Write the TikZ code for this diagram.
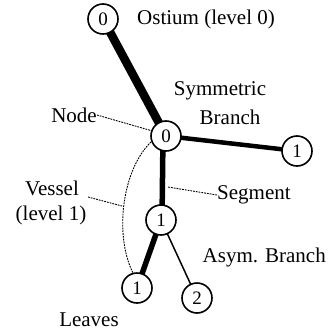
\documentclass[tikz,border=0pt]{standalone}
\usepackage{fontspec}
\setmainfont{Liberation Serif}
\usetikzlibrary{calc}

\tikzset{
  vtx/.style={circle, draw, line width=1.6pt, fill=white, minimum size=30pt, inner sep=0pt, font=\fontsize{19}{19}\selectfont},
  lbl/.style={font=\fontsize{21}{25}\selectfont, inner sep=0pt},
  lead/.style={line width=0.9pt, dash pattern=on 1.8pt off 1pt},
}

\begin{document}
\begin{tikzpicture}[x=1pt, y=-1pt]
        \useasboundingbox (0,0) rectangle (331,335);

        % tree nodes
        \coordinate (o1) at (103,19);
        \coordinate (o2) at (166,136);
        \coordinate (o3) at (297,151);
        \coordinate (o4) at (161,220);
        \coordinate (o5) at (137,288);
        \coordinate (o6) at (197,298);

        \draw[line width=8.5pt] (o1) -- (o2);
        \draw[line width=4.5pt] (o2) -- (o3);
        \draw[line width=5.5pt] ($(o2)+(-3,0)$) -- ($(o4)+(1,0)$);
        \draw[line width=5.5pt] (o4) -- (o5);
        \draw[line width=1.5pt] (o4) -- (o6);

        \node[vtx] (ost) at (o1) {0};
        \node[vtx] (sym) at (o2) {0};
        \node[vtx] (rgt) at (o3) {1};
        \node[vtx] (mid) at (o4) {1};
        \node[vtx] (lfa) at (o5) {1};
        \node[vtx] (lfb) at (o6) {2};

        % vessel of level 1
        \coordinate (va) at (151,142);
        \coordinate (vb) at (133,273);
        \coordinate (vm) at (122,206);
        \draw[lead] (va) .. controls (122,170) and (114,235) .. (vb);

        % labels
        \node[lbl, anchor=west] (lost) at (137,19) {Ostium (level 0)};
        \node[lbl] (lsym) at (220,91) {Symmetric};
        \node[lbl] (lbr) at (230,117) {Branch};
        \node[lbl, anchor=east] (lnode) at (97,115) {Node};
        \node[lbl] (lves) at (52,188) {Vessel};
        \node[lbl] (llev) at (51,215) {(level 1)};
        \node[lbl, anchor=west] (lseg) at (217,195) {Segment};
        \node[lbl, anchor=east] (lasy) at (326,257) {Asym. Branch};
        \node[lbl] (llea) at (89,320) {Leaves};

        \draw[lead] (lnode.east) -- (sym.160);
        \draw[lead] (lseg.west) -- (168,187);
        \draw[lead] (88,197) -- (vm);
    \end{tikzpicture}
\end{document}
